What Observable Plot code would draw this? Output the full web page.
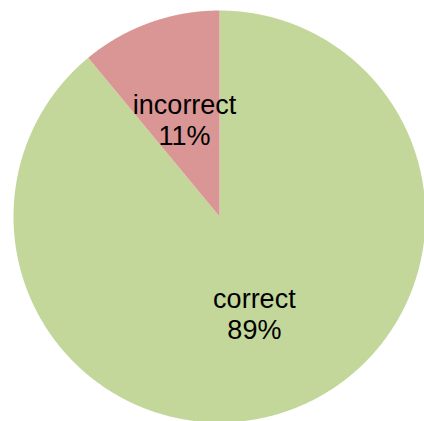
<!DOCTYPE html>
<html>
<head>
<meta charset="utf-8">
<script src="https://cdn.jsdelivr.net/npm/d3@7"></script>
<script src="https://cdn.jsdelivr.net/npm/@observablehq/plot@0.6"></script>
<style>
  html, body { margin: 0; padding: 0; background: #fff; }
  #chart svg { display: block; }
</style>
</head>
<body>
<div id="chart"></div>
<script>
// Data
const categories = ["correct", "incorrect"];
const values = [89, 11];
const labels = ["correct\n89%", "incorrect\n11%"];
const colors = ["#c4d79b", "#da9694"];

// Build slice polygons (angle measured clockwise from top)
const total = d3.sum(values);
const slices = [];
let acc = 0;
categories.forEach((c, i) => {
  const a0 = acc / total * 2 * Math.PI;
  acc += values[i];
  const a1 = acc / total * 2 * Math.PI;
  slices.push({cat: c, a0, a1, label: labels[i]});
});

const pts = [];
for (const s of slices) {
  pts.push({cat: s.cat, x: 0, y: 0});
  const n = Math.max(2, Math.ceil((s.a1 - s.a0) / (Math.PI / 720)));
  for (let k = 0; k <= n; k++) {
    const a = s.a0 + (s.a1 - s.a0) * k / n;
    pts.push({cat: s.cat, x: Math.sin(a), y: Math.cos(a)});
  }
  pts.push({cat: s.cat, x: 0, y: 0});
}

const labelR = 0.5;
const labelPts = slices.map(s => {
  const m = (s.a0 + s.a1) / 2;
  return {cat: s.cat, label: s.label, x: labelR * Math.sin(m), y: labelR * Math.cos(m)};
});

const cx = 219, cy = 216, R = 206;

const chart = Plot.plot({
  width: 424,
  height: 421,
  margin: 0,
  style: {background: "#fff", overflow: "visible"},
  x: {domain: [-1, 1], range: [cx - R, cx + R], axis: null},
  y: {domain: [-1, 1], range: [cy + R, cy - R], axis: null},
  color: {domain: categories, range: colors},
  marks: [
    Plot.line(pts, {x: "x", y: "y", z: "cat", fill: "cat", stroke: null, curve: "linear"}),
    Plot.text(labelPts, {
      x: "x", y: "y", text: "label",
      fontSize: 27, lineHeight: 1.15,
      fontFamily: "'Liberation Sans', Arial, sans-serif",
      fill: "#000", textAnchor: "middle"
    })
  ]
});
document.getElementById("chart").appendChild(chart);
</script>
</body>
</html>
